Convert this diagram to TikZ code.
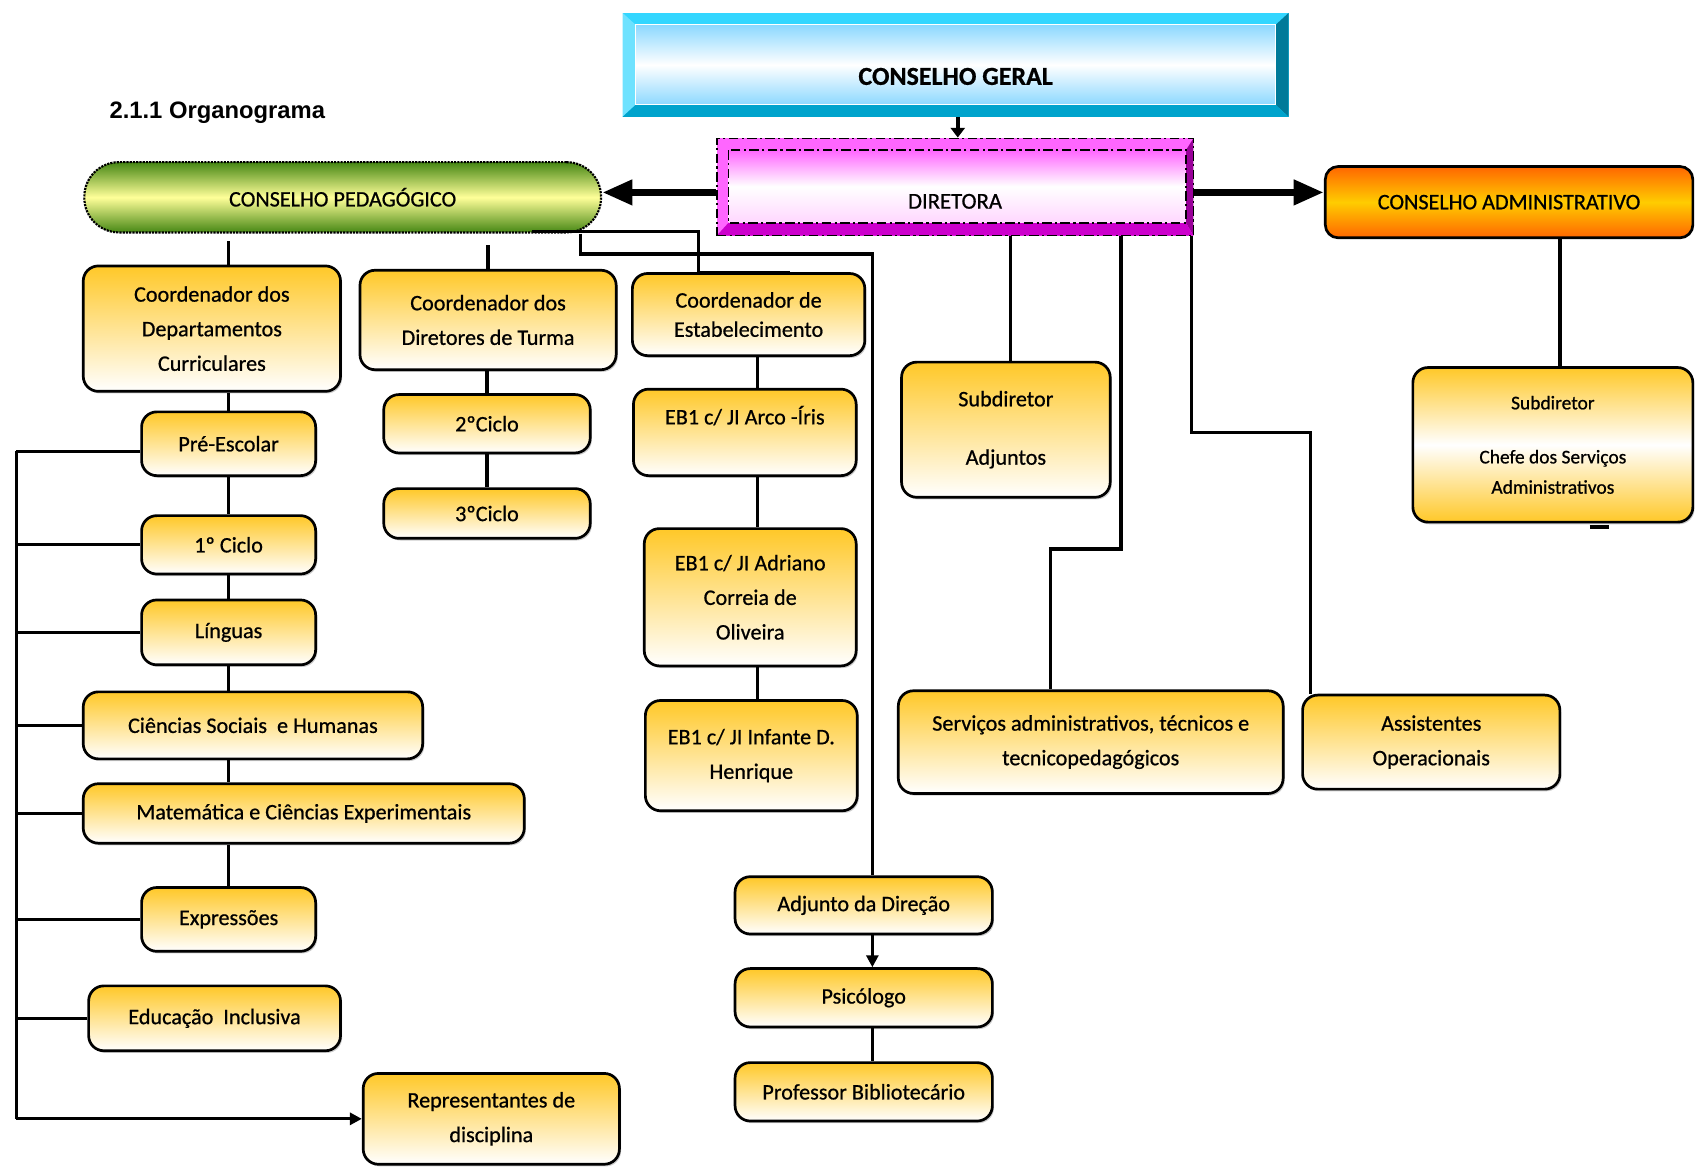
\documentclass[tikz,border=0pt]{standalone}
\usepackage{fontspec}
\setmainfont{Carlito}[FakeBold=0.7]
\newfontfamily\arialfont{Liberation Sans}
\usetikzlibrary{positioning,arrows.meta,calc,shadows}

\definecolor{amarelo}{RGB}{255,200,40}
\definecolor{cgtopo}{RGB}{51,214,255}
\definecolor{cgesq}{RGB}{110,226,255}
\definecolor{cgdir}{RGB}{0,122,153}
\definecolor{cgbase}{RGB}{0,163,204}
\definecolor{cgclaro}{RGB}{140,216,255}
\definecolor{mgtopo}{RGB}{255,102,255}
\definecolor{mgdir}{RGB}{153,0,153}
\definecolor{mgbase}{RGB}{204,0,204}
\definecolor{mgclaro}{RGB}{255,215,255}
\definecolor{verde}{RGB}{70,135,20}
\definecolor{verdeclaro}{RGB}{255,255,153}
\definecolor{laranja}{RGB}{255,102,0}
\definecolor{ouro}{RGB}{255,204,0}

\begin{document}
\begin{tikzpicture}[
        x=1pt, y=-1pt,
        font=\fontsize{20.5}{32}\selectfont,
        >={Triangle[length=11pt,width=11pt]},
        link/.style={line width=3pt},
        bigarrow/.style={line width=7pt, -{Triangle[length=28pt,width=22pt]}},
        ybox/.style 2 args={draw, line width=2.5pt, rounded corners=14pt, align=center, inner sep=2pt,
            top color=amarelo, bottom color=white, minimum width=#1, minimum height=#2,
            drop shadow={shadow xshift=1.5pt, shadow yshift=-2pt, fill=black!40}},
        pedbox/.style={draw, densely dotted, line width=2pt, rounded corners=32pt,
            minimum width=478, minimum height=65, top color=verde, bottom color=verde, middle color=verdeclaro},
        admbox/.style={draw, line width=2.5pt, rounded corners=12pt,
            minimum width=340, minimum height=66, top color=laranja, bottom color=laranja, middle color=ouro},
        geralbox/.style={minimum width=616, minimum height=96, inner sep=0pt, fill=cgtopo,
            font=\fontsize{24}{28}\selectfont\bfseries, text height=37pt, text depth=0pt,
            path picture={
                \coordinate (c1) at (path picture bounding box.north west);
                \coordinate (c2) at (path picture bounding box.north east);
                \coordinate (c3) at (path picture bounding box.south east);
                \coordinate (c4) at (path picture bounding box.south west);
                \fill[cgesq] (c1) -- ($(c1)+(12,11)$) -- ($(c4)+(12,-11)$) -- (c4) -- cycle;
                \fill[cgdir] (c2) -- ($(c2)+(-12,11)$) -- ($(c3)+(-12,-11)$) -- (c3) -- cycle;
                \fill[cgbase] (c4) -- ($(c4)+(12,-11)$) -- ($(c3)+(-12,-11)$) -- (c3) -- cycle;
                \shade[top color=cgclaro, bottom color=cgclaro, middle color=white]
                    ($(c1)+(12,11)$) rectangle ($(c3)+(-12,-11)$);
                \draw[white, line width=1pt] ($(c1)+(12,11)$) rectangle ($(c3)+(-12,-11)$);
            }},
        dirbox/.style={minimum width=441, minimum height=90, inner sep=0pt, fill=mgtopo,
            draw, line width=1.5pt, dash pattern=on 9pt off 3pt on 2pt off 3pt,
            font=\fontsize{21}{26}\selectfont, text height=40pt, text depth=0pt,
            path picture={
                \coordinate (d1) at (path picture bounding box.north west);
                \coordinate (d2) at (path picture bounding box.north east);
                \coordinate (d3) at (path picture bounding box.south east);
                \coordinate (d4) at (path picture bounding box.south west);
                \fill[mgdir] (d2) -- ($(d2)+(-7,11)$) -- ($(d3)+(-7,-12)$) -- (d3) -- cycle;
                \fill[mgbase] (d4) -- ($(d4)+(11,-12)$) -- ($(d3)+(-7,-12)$) -- (d3) -- cycle;
                \shade[top color=mgtopo, bottom color=mgclaro, middle color=white]
                    ($(d1)+(11,11)$) rectangle ($(d3)+(-7,-12)$);
                \draw[black, line width=1.5pt, dash pattern=on 9pt off 3pt on 2pt off 3pt]
                    ($(d1)+(11,11)$) rectangle ($(d3)+(-7,-12)$);
            }}
    ]
    \useasboundingbox (0,0) rectangle (1568,1080);

    % Topo
    \node[font=\arialfont\bfseries\fontsize{22}{26}\selectfont] (titulo) at (201,104) {2.1.1 Organograma};
    \node[geralbox] (geral) at (884,60) {CONSELHO GERAL};
    \node[dirbox] (diretora) at (883.5,173) {DIRETORA};
    \node[pedbox] (pedag) at (317,182.5) {CONSELHO PEDAGÓGICO};
    \node[admbox] (admin) at (1396,187) {CONSELHO ADMINISTRATIVO};

    % Conselho pedagógico
    \node[ybox={238}{116}] (coorddep) at (196,304) {Coordenador dos\\Departamentos\\Curriculares};
    \node[ybox={237}{92}] (coorddt) at (451.5,296) {Coordenador dos\\Diretores de Turma};
    \node[ybox={215}{76}, font=\fontsize{20.5}{27}\selectfont] (coordest) at (692.5,291) {Coordenador de\\Estabelecimento};
    \node[ybox={161}{59}] (preesc) at (211.5,410.5) {Pré-Escolar};
    \node[ybox={161}{54}] (ciclo1) at (211.5,504) {1º Ciclo};
    \node[ybox={161}{60}] (linguas) at (211.5,585) {Línguas};
    \node[ybox={314}{62}] (ciencias) at (234,671) {Ciências Sociais\ \ e Humanas};
    \node[ybox={408}{55}] (matem) at (281,752.5) {Matemática e Ciências Experimentais};
    \node[ybox={161}{59}] (expr) at (211.5,850.5) {Expressões};
    \node[ybox={233}{60}] (educ) at (198.5,942) {Educação\ \ Inclusiva};
    \node[ybox={237}{84}] (repres) at (454.5,1035) {Representantes de\\disciplina};
    \node[ybox={191}{54}] (ciclo2) at (450.5,392) {2ºCiclo};
    \node[ybox={191}{46}] (ciclo3) at (450.5,475) {3ºCiclo};
    \node[ybox={206}{80}] (arco) at (689,400) {EB1 c/ JI Arco -Íris\\\mbox{}};
    \node[ybox={196}{127}] (adriano) at (694,552.5) {EB1 c/ JI Adriano\\Correia de\\Oliveira};
    \node[ybox={196}{102}] (infante) at (695,699) {EB1 c/ JI Infante D.\\Henrique};
    \node[ybox={238}{53}] (adjunto) at (799,837.5) {Adjunto da Direção};
    \node[ybox={238}{54}] (psico) at (799,923) {Psicólogo};
    \node[ybox={238}{54}] (biblio) at (799,1010) {Professor Bibliotecário};

    % Direção e administração
    \node[ybox={193}{125}] (subdir) at (930.5,397.5) {Subdiretor\\[22pt]Adjuntos};
    \node[ybox={356}{95}] (servicos) at (1009,686.5) {Serviços administrativos, técnicos e\\tecnicopedagógicos};
    \node[ybox={238}{87}] (assist) at (1324,686.5) {Assistentes\\Operacionais};
    \node[ybox={259}{143}, bottom color=amarelo, middle color=white, font=\fontsize{18}{28}\selectfont]
        (subadm) at (1436.5,411.5) {Subdiretor\\[22pt]Chefe dos Serviços\\Administrativos};

    % Setas principais
    \draw[line width=4pt, -{Triangle[length=9pt,width=13pt]}] ($(geral.south)+(2,0)$) -- ($(geral.south |- diretora.north)+(2,0)$);
    \draw[bigarrow] ($(diretora.west)+(0,5)$) -- ($(diretora.west -| pedag.east)+(0,5)$);
    \draw[bigarrow] ($(diretora.east)+(0,5)$) -- ($(diretora.east -| admin.west)+(0,5)$);

    % Coluna esquerda
    \draw[link] ($(pedag.south -| preesc.north)+(0,7)$) -- (coorddep.north -| preesc.north);
    \draw[link] (coorddep.south -| preesc.north) -- (preesc.north);
    \draw[link] (preesc.south) -- (ciclo1.north);
    \draw[link] (ciclo1.south) -- (linguas.north);
    \draw[link] (linguas.south) -- (linguas.south |- ciencias.north);
    \draw[link] (ciencias.south -| linguas.south) -- (matem.north -| linguas.south);
    \draw[link] (matem.south -| expr.north) -- (expr.north);

    \coordinate (bustop) at (15,417.5);
    \coordinate (busbot) at (15,1035);
    \draw[link] (bustop) -- (busbot);
    \draw[link] ($(preesc.west)+(0,7)$) -- (bustop);
    \foreach \n in {ciclo1,linguas,ciencias,matem,expr,educ}
        \draw[link] (\n.west) -- (\n.west -| bustop);
    \draw[link,->] (busbot) -- (repres.west);

    % Coluna do meio
    \draw[link] ($(pedag.south -| coorddt.north)+(0,11)$) -- (coorddt.north);
    \draw[link] (coorddt.south -| ciclo2.north) -- (ciclo2.north);
    \draw[link] (ciclo2.south) -- (ciclo3.north);

    \draw[link] ($(pedag.south)+(175,-2)$) -| ($(coordest.north)+(-46,0)$) -- ($(coordest.north)+(38,0)$);
    \coordinate (colest) at (701,0);
    \draw[link] (coordest.south -| colest) -- (arco.north -| colest);
    \draw[link] (arco.south -| colest) -- (adriano.north -| colest);
    \draw[link] (adriano.south -| colest) -- (infante.north -| colest);

    \draw[link] ($(pedag.south)+(220,0)$) -- ++(0,19) -| ($(adjunto.north)+(8,0)$);
    \draw[link,->] ($(adjunto.south)+(8,0)$) -- ($(psico.north)+(8,0)$);
    \draw[link] ($(psico.south)+(8,0)$) -- ($(biblio.north)+(8,0)$);

    % Lado direito
    \draw[link] ($(subdir.north |- diretora.south)+(4.5,0)$) -- ($(subdir.north)+(4.5,0)$);
    \draw[link] ($(diretora.south)+(153.5,0)$) -- ++(0,289) -| ($(servicos.north)+(-37,0)$);
    \draw[link] ($(diretora.south)+(218.5,0)$) -- ++(0,181) -| ($(assist.north)+(-112,0)$);
    \draw[link] ($(admin.south)+(47,0)$) -- ($(admin.south |- subadm.north)+(47,0)$);
    \draw[line width=4pt] ($(subadm.south)+(34,3)$) -- ++(18,0);
\end{tikzpicture}
\end{document}
